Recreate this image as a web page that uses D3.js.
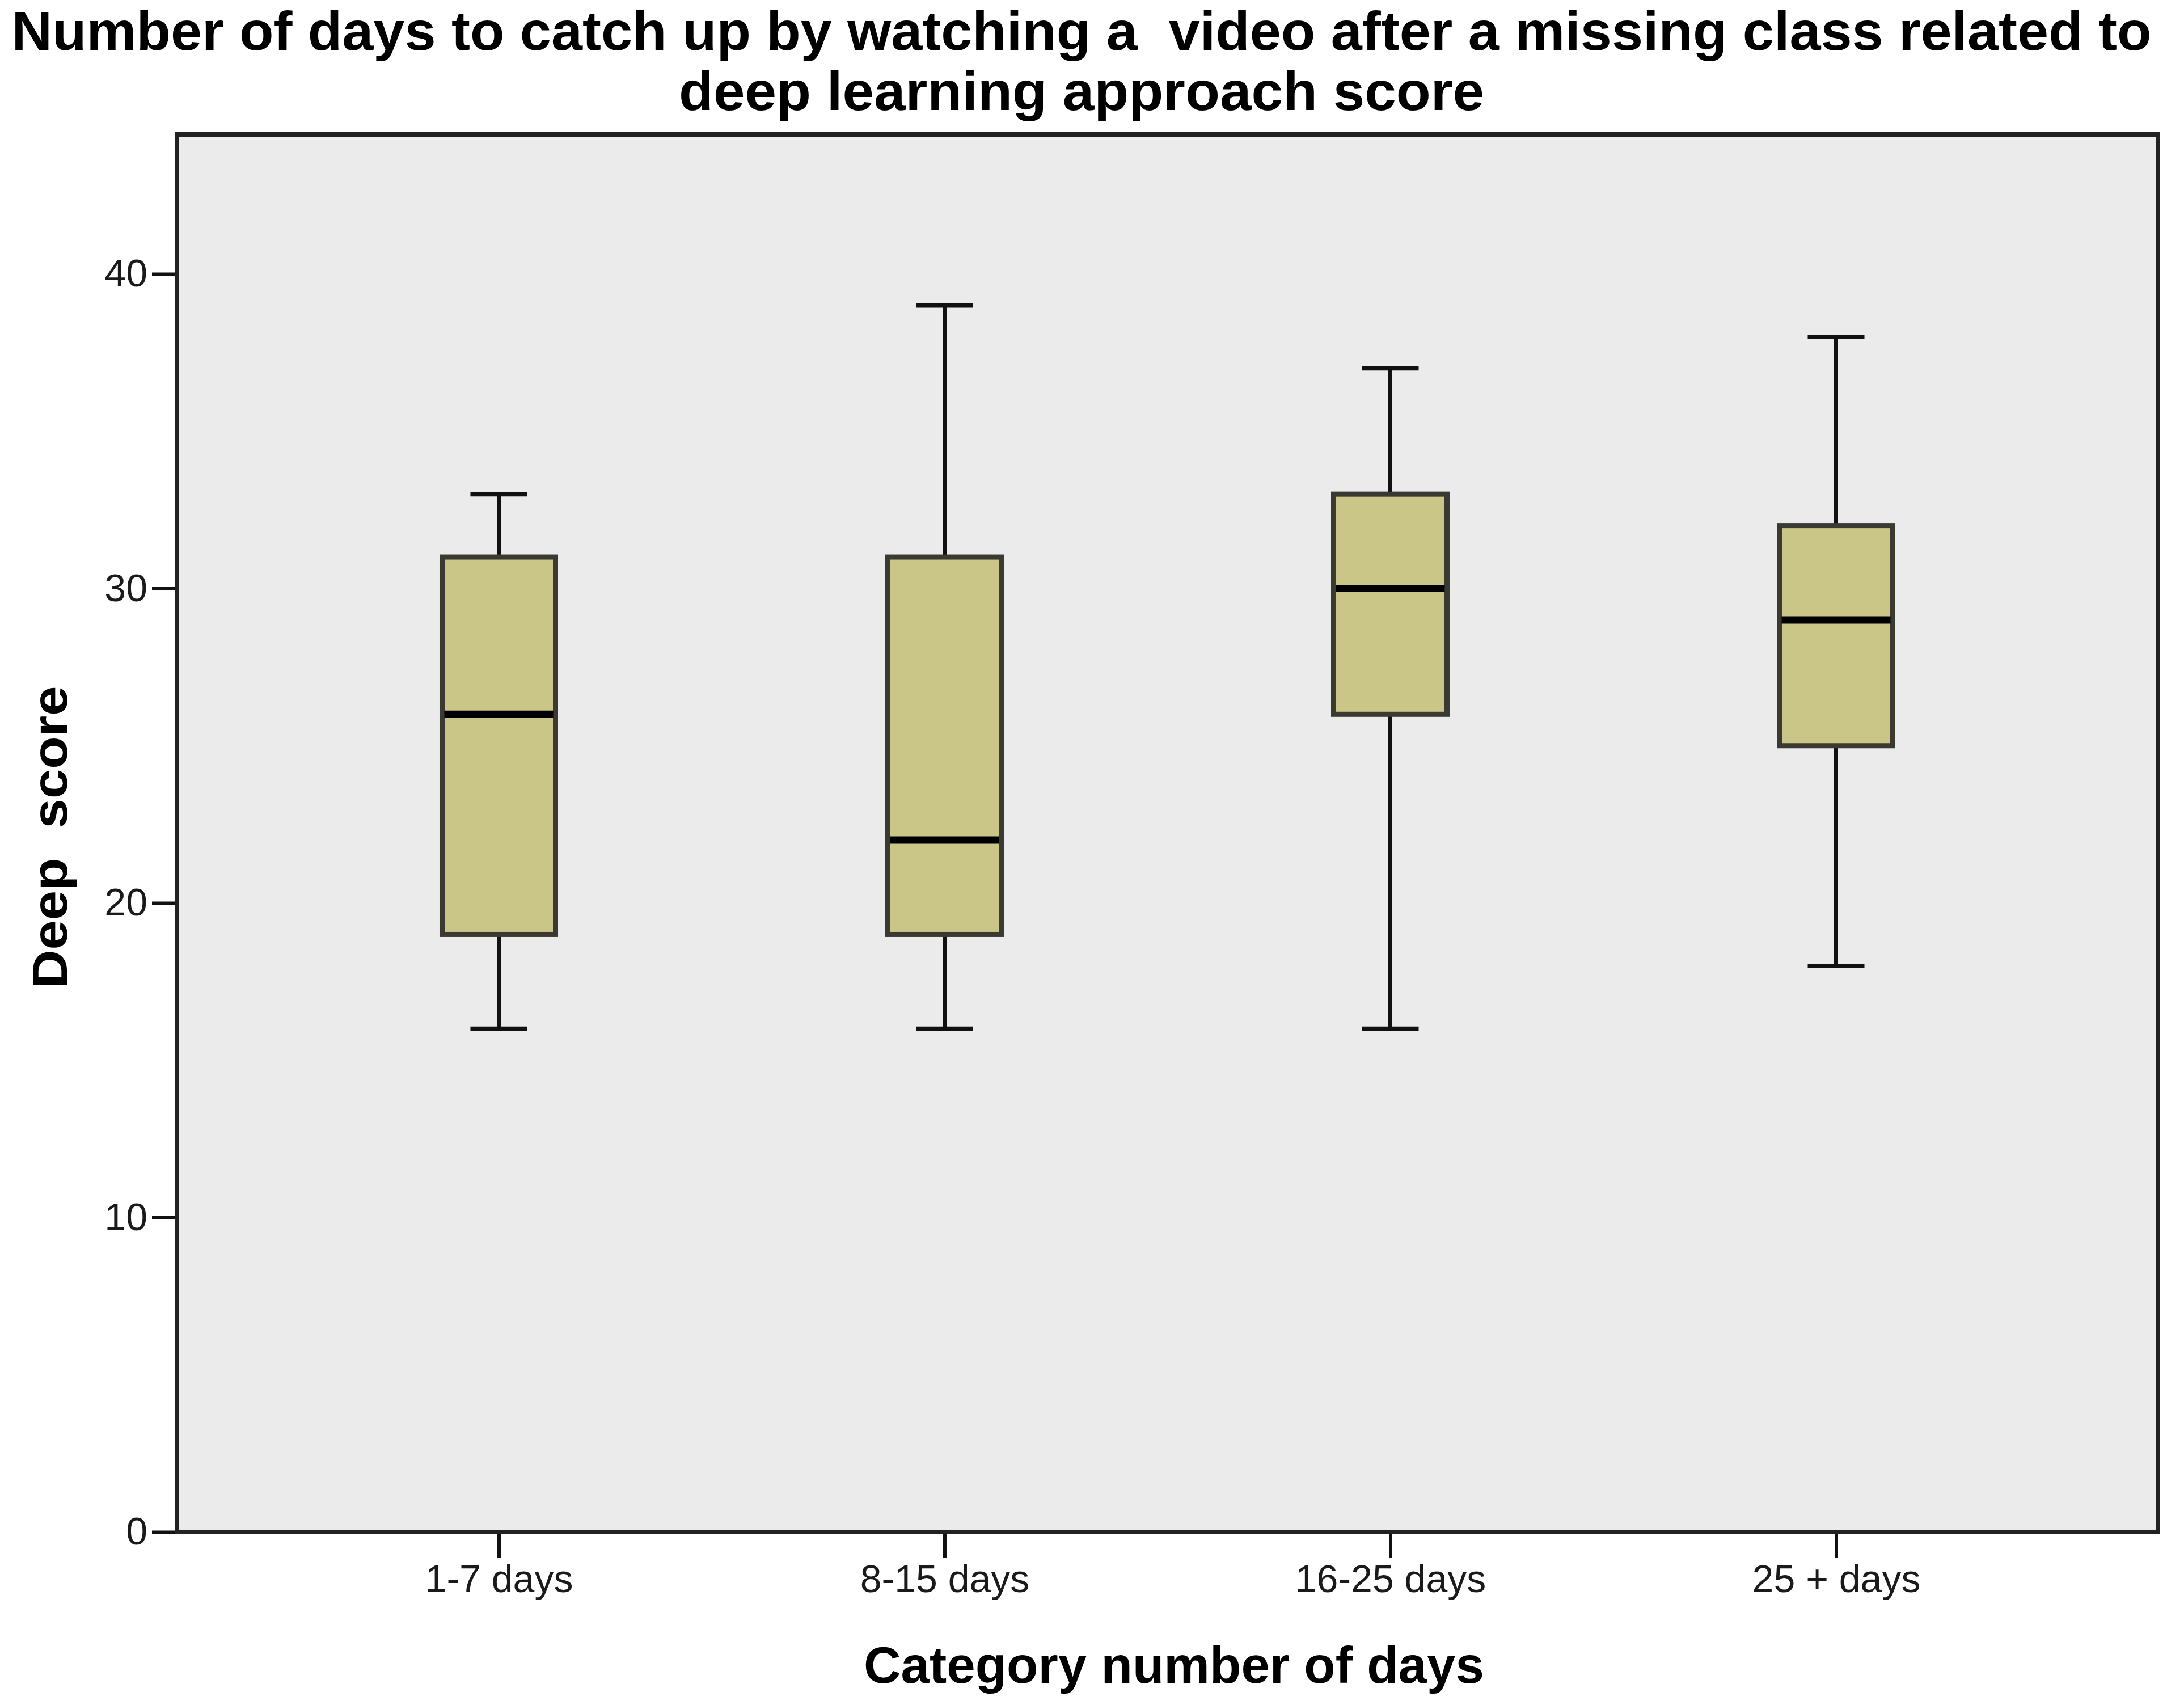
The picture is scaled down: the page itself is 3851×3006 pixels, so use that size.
<!DOCTYPE html>
<html>
<head>
<meta charset="utf-8">
<script src="https://cdn.jsdelivr.net/npm/d3@7"></script>
<style>
  body { margin: 0; background: #fff; }
  svg text { font-family: "Liberation Sans", Arial, sans-serif; white-space: pre; }
</style>
</head>
<body>
<div id="chart"></div>
<script>
// data
const categories = ['1-7 days', '8-15 days', '16-25 days', '25 + days'];
const mins    = [16, 16, 16, 18];
const q1s     = [19, 19, 26, 25];
const medians = [26, 22, 30, 29];
const q3s     = [31, 31, 33, 32];
const maxs    = [33, 39, 37, 38];
const yTicks  = [0, 10, 20, 30, 40];

const titleLines = ['Number of days to catch up by watching a  video after a missing class related to',
                    'deep learning approach score'];

const W = 3851, H = 3006;
const frame = { left: 312, right: 3805, top: 237, bottom: 2701 };

const boxes = categories.map((c, i) => ({
    cat: c, min: mins[i], q1: q1s[i], med: medians[i], q3: q3s[i], max: maxs[i]
}));

const svg = d3.select('#chart')
    .append('svg')
    .attr('width', W)
    .attr('height', H);

const x = d3.scalePoint()
    .domain(categories)
    .range([frame.left, frame.right])
    .padding(0.722);

const y = d3.scaleLinear()
    .domain([0, 40])
    .range([frame.bottom, 483]);

// plot background
svg.append('rect')
    .attr('x', frame.left)
    .attr('y', frame.top)
    .attr('width', frame.right - frame.left)
    .attr('height', frame.bottom - frame.top)
    .style('fill', '#ebebeb');

// axes
const yAxis = svg.append('g')
    .attr('transform', `translate(${frame.left},0)`)
    .call(d3.axisLeft(y).tickValues(yTicks).tickSize(44).tickPadding(8));

const xAxis = svg.append('g')
    .attr('transform', `translate(0,${frame.bottom})`)
    .call(d3.axisBottom(x).tickSize(46).tickPadding(12));

[yAxis, xAxis].forEach(a => {
    a.select('.domain').remove();
    a.selectAll('.tick line').style('stroke', '#111').style('stroke-width', 6);
    a.selectAll('.tick text')
        .style('font-size', '68px')
        .style('font-family', '"Liberation Sans", Arial, sans-serif')
        .style('fill', '#1a1a1a');
});

// whiskers
const g = svg.append('g');
const bw = 200, cw = 100;

g.selectAll('.whisker-low')
    .data(boxes)
    .enter().append('line')
    .attr('x1', d => x(d.cat)).attr('x2', d => x(d.cat))
    .attr('y1', d => y(d.min)).attr('y2', d => y(d.q1))
    .style('stroke', '#111').style('stroke-width', 7);

g.selectAll('.whisker-high')
    .data(boxes)
    .enter().append('line')
    .attr('x1', d => x(d.cat)).attr('x2', d => x(d.cat))
    .attr('y1', d => y(d.q3)).attr('y2', d => y(d.max))
    .style('stroke', '#111').style('stroke-width', 7);

['min', 'max'].forEach(k => {
    g.selectAll('.cap-' + k)
        .data(boxes)
        .enter().append('line')
        .attr('x1', d => x(d.cat) - cw / 2).attr('x2', d => x(d.cat) + cw / 2)
        .attr('y1', d => y(d[k])).attr('y2', d => y(d[k]))
        .style('stroke', '#111').style('stroke-width', 8);
});

// boxes
g.selectAll('.box')
    .data(boxes)
    .enter().append('rect')
    .attr('x', d => x(d.cat) - bw / 2)
    .attr('y', d => y(d.q3))
    .attr('width', bw)
    .attr('height', d => y(d.q1) - y(d.q3))
    .style('fill', '#c9c688')
    .style('stroke', '#3a3a33')
    .style('stroke-width', 9);

g.selectAll('.median')
    .data(boxes)
    .enter().append('line')
    .attr('x1', d => x(d.cat) - bw / 2 + 4).attr('x2', d => x(d.cat) + bw / 2 - 4)
    .attr('y1', d => y(d.med)).attr('y2', d => y(d.med))
    .style('stroke', '#000').style('stroke-width', 13);

// frame
svg.append('rect')
    .attr('x', frame.left)
    .attr('y', frame.top)
    .attr('width', frame.right - frame.left)
    .attr('height', frame.bottom - frame.top)
    .style('fill', 'none')
    .style('stroke', '#222')
    .style('stroke-width', 8);

// title
svg.selectAll('.title')
    .data(titleLines)
    .enter().append('text')
    .attr('x', 1907)
    .attr('y', (_, i) => 88 + i * 106)
    .attr('text-anchor', 'middle')
    .attr('textLength', (_, i) => i === 0 ? 3773 : 1420)
    .attr('lengthAdjust', 'spacingAndGlyphs')
    .style('font-size', '96px')
    .style('font-weight', 'bold')
    .text(d => d);

// axis titles
svg.append('text')
    .attr('x', 2070)
    .attr('y', 2967)
    .attr('text-anchor', 'middle')
    .attr('textLength', 1094)
    .attr('lengthAdjust', 'spacingAndGlyphs')
    .style('font-size', '90px')
    .style('font-weight', 'bold')
    .text('Category number of days');

svg.append('text')
    .attr('transform', 'rotate(-90)')
    .attr('x', -1476)
    .attr('y', 118)
    .attr('text-anchor', 'middle')
    .attr('textLength', 533)
    .attr('lengthAdjust', 'spacingAndGlyphs')
    .style('font-size', '88px')
    .style('font-weight', 'bold')
    .text('Deep  score');
</script>
</body>
</html>
